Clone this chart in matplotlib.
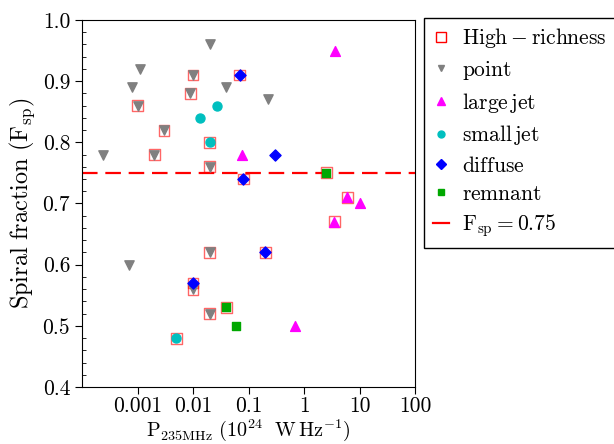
import numpy as np
import matplotlib
matplotlib.use("Agg")
import matplotlib.pyplot as plt

plt.rcParams["mathtext.fontset"] = "cm"
plt.rcParams["font.family"] = "serif"
plt.rcParams["font.serif"] = ["cmr10", "DejaVu Serif"]
plt.rcParams["axes.unicode_minus"] = False
plt.rcParams["axes.formatter.use_mathtext"] = True

# power at 235 MHz (1e24 W/Hz) and spiral fraction, per radio morphology
point_p = [0.02, 0.0011, 0.0008, 0.001, 0.01, 0.009, 0.003, 0.002, 0.00024,
           0.04, 0.22, 0.02, 0.0007, 0.02, 0.01, 0.02]
point_f = [0.96, 0.92, 0.89, 0.86, 0.91, 0.88, 0.82, 0.78, 0.78,
           0.89, 0.87, 0.76, 0.60, 0.62, 0.56, 0.52]

largejet_p = [3.6, 0.075, 6.0, 10.0, 3.5, 0.7]
largejet_f = [0.95, 0.78, 0.71, 0.70, 0.67, 0.50]

smalljet_p = [0.0135, 0.027, 0.02, 0.005]
smalljet_f = [0.84, 0.86, 0.80, 0.48]

diffuse_p = [0.07, 0.3, 0.08, 0.2, 0.01]
diffuse_f = [0.91, 0.78, 0.74, 0.62, 0.57]

remnant_p = [2.5, 0.04, 0.06]
remnant_f = [0.75, 0.53, 0.50]

# high-richness clusters (boxed)
rich_p = [0.001, 0.01, 0.009, 0.003, 0.002, 0.02, 0.02, 0.01, 0.02,
          0.02, 0.005, 0.07, 0.08, 0.2, 0.01, 2.5, 0.04, 6.0, 3.5]
rich_f = [0.86, 0.91, 0.88, 0.82, 0.78, 0.76, 0.62, 0.56, 0.52,
          0.80, 0.48, 0.91, 0.74, 0.62, 0.57, 0.75, 0.53, 0.71, 0.67]

F_CUT = 0.75

fig = plt.figure(figsize=(6.14, 4.44), dpi=100)
ax = fig.add_axes([0.1336, 0.1284, 0.5423, 0.8266])

ax.scatter(rich_p, rich_f, marker="s", s=62, facecolors="none",
           edgecolors="red", linewidths=1.0, alpha=0.6, zorder=2)
ax.scatter(point_p, point_f, marker="v", s=45, color="gray", zorder=3)
ax.scatter(largejet_p, largejet_f, marker="^", s=50, color="magenta", zorder=3)
ax.scatter(smalljet_p, smalljet_f, marker="o", s=42, color="c", zorder=3)
ax.scatter(diffuse_p, diffuse_f, marker="D", s=32, color="blue", zorder=3)
ax.scatter(remnant_p, remnant_f, marker="s", s=26, color="#00a800", zorder=3)
ax.axhline(F_CUT, color="red", ls=(0, (7, 3.5)), lw=1.6, zorder=1)

ax.set_xscale("log")
ax.set_xlim(1e-4, 100)
ax.set_ylim(0.4, 1.0)
ax.set_xticks([0.001, 0.01, 0.1, 1, 10, 100])
ax.set_xticklabels(["0.001", "0.01", "0.1", "1", "10", "100"])
ax.xaxis.set_minor_locator(matplotlib.ticker.LogLocator(base=10, subs=(2, 5)))
ax.xaxis.set_minor_formatter(matplotlib.ticker.NullFormatter())
ax.set_yticks(np.arange(0.4, 1.01, 0.1))
ax.set_yticklabels(["0.4", "0.5", "0.6", "0.7", "0.8", "0.9", "1.0"])
ax.yaxis.set_minor_locator(matplotlib.ticker.MultipleLocator(0.02))
ax.tick_params(which="major", direction="out", length=5, labelsize=15.5)
ax.tick_params(axis="x", which="major", pad=2)
ax.tick_params(which="minor", direction="in", length=3)

ax.set_xlabel(r"$\mathrm{P_{235MHz}\ (10^{24}\ \ W\,Hz^{-1})}$", fontsize=14.5,
              labelpad=1)
ax.set_ylabel(r"$\mathrm{Spiral\ fraction\ (F_{sp})}$", fontsize=17.5,
              labelpad=4)

h_rich = plt.Line2D([], [], marker="s", ls="none", mfc="none", mec="red", ms=7)
h_point = plt.Line2D([], [], marker="v", ls="none", color="gray", ms=5)
h_lj = plt.Line2D([], [], marker="^", ls="none", color="magenta", ms=6)
h_sj = plt.Line2D([], [], marker="o", ls="none", color="c", ms=5)
h_df = plt.Line2D([], [], marker="D", ls="none", color="blue", ms=5)
h_rm = plt.Line2D([], [], marker="s", ls="none", color="#00a800", ms=5)
h_cut = plt.Line2D([], [], color="red", lw=1.6)

leg = fig.legend([h_rich, h_point, h_lj, h_sj, h_df, h_rm, h_cut],
                 [r"$\mathrm{High-richness}$", r"$\mathrm{point}$",
                  r"$\mathrm{large\,jet}$", r"$\mathrm{small\,jet}$",
                  r"$\mathrm{diffuse}$", r"$\mathrm{remnant}$",
                  r"$\mathrm{F_{sp}=0.75}$"],
                 loc="upper left", bbox_to_anchor=(0.691, 0.96),
                 borderaxespad=0, fontsize=15.5, handlelength=0.75,
                 handletextpad=0.6, labelspacing=0.4, borderpad=0.4,
                 fancybox=False, edgecolor="black", framealpha=1)
leg.get_frame().set_linewidth(1.0)

fig.savefig("out.png", dpi=100)
